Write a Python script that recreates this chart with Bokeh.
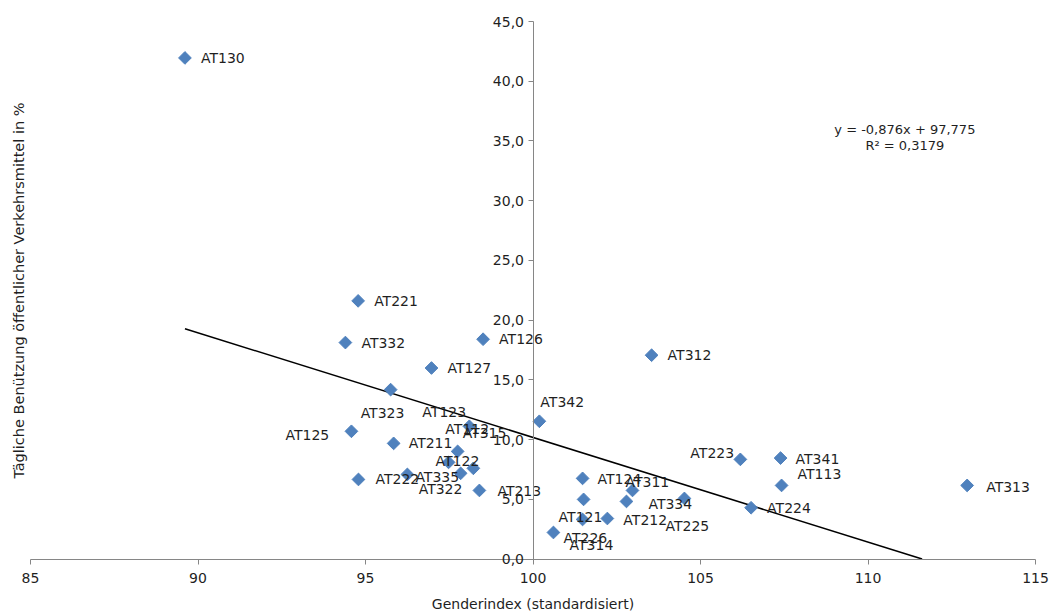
import math
from bokeh.plotting import figure
from bokeh.models import (ColumnDataSource, FixedTicker, CustomJSTickFormatter,
                          Label, Range1d)
from bokeh.core.properties import value
from bokeh.embed import file_html
from bokeh.resources import INLINE

# ---- data ----
regions = ["AT130", "AT221", "AT332", "AT126", "AT127", "AT312", "AT323", "AT342",
           "AT125", "AT112", "AT211", "AT315", "AT122", "AT123", "AT322", "AT335",
           "AT222", "AT213", "AT226", "AT124", "AT121", "AT314", "AT212", "AT311",
           "AT225", "AT334", "AT223", "AT341", "AT113", "AT224", "AT313"]
gender_index = [89.61, 94.78, 94.40, 98.51, 96.97, 103.54, 95.75, 100.19,
                94.58, 98.10, 95.84, 97.75, 97.48, 98.22, 97.84, 96.25,
                94.79, 98.40, 100.61, 101.48, 101.51, 101.48, 102.22, 102.97,
                102.79, 104.52, 106.19, 107.39, 107.42, 106.51, 112.96]
oev_share = [41.95, 21.61, 18.12, 18.40, 15.99, 17.06, 14.18, 11.53,
             10.69, 11.11, 9.68, 9.01, 8.09, 7.59, 7.17, 7.08,
             6.66, 5.74, 2.22, 6.75, 4.99, 3.31, 3.39, 5.74,
             4.82, 5.07, 8.34, 8.45, 6.16, 4.29, 6.16]
trend_slope = -0.876
trend_intercept = 97.775
r_squared = 0.3179
x_ticks = [85, 90, 95, 100, 105, 110, 115]
y_ticks = [0, 5, 10, 15, 20, 25, 30, 35, 40, 45]
x_axis_range = (85, 115)
y_axis_range = (0, 45)

# ---- label placement (screen pixels, relative to the marker) ----
label_dx = [16, 16, 16, 16, 16, 16, -30, 1,
            -66, -24, 15, 5, -13, -51, -42, 8,
            17, 18, 10, 15, -25, -13, 16, -7,
            39, -36, -50, 15, 16, 16, 19]
label_dy = [0, 0, 0, 0, 0, 0, 23, -19,
            4, 3, 0, -18, -1, -56, 16, 3,
            0, 1, 6, 1, 18, 26, 1, -8,
            25, 6, -6, 1, -11, 0, 2]

FONT = "DejaVu Sans"
TXT = "#1f1f1f"
AXC = "#868686"

# canvas geometry: plot box from px 30..1035 (x) and 21..558.5 (y)
W, H = 1051, 614
BOX_L, BOX_R, BOX_T, BOX_B = 30.0, 1035.0, 21.0, 558.5
ppx = (BOX_R - BOX_L) / (x_axis_range[1] - x_axis_range[0])
ppy = (BOX_B - BOX_T) / (y_axis_range[1] - y_axis_range[0])
xr = Range1d(x_axis_range[0] - BOX_L / ppx, x_axis_range[1] + (W - BOX_R) / ppx)
yr = Range1d(y_axis_range[0] - (H - BOX_B) / ppy, y_axis_range[1] + BOX_T / ppy)

src = ColumnDataSource(dict(x=gender_index, y=oev_share, name=regions,
                            dx=label_dx, dy=label_dy))

p = figure(frame_width=W, frame_height=H, x_range=xr, y_range=yr,
           output_backend="svg", toolbar_location=None,
           min_border=0, min_border_left=0, min_border_right=0,
           min_border_top=0, min_border_bottom=0)
p.outline_line_color = None
p.xgrid.visible = False
p.ygrid.visible = False
p.background_fill_color = "white"
p.border_fill_color = "white"

# axes crossing at (100, 0)
xa = p.xaxis[0]
ya = p.yaxis[0]
xa.fixed_location = 0
ya.fixed_location = 100
xa.bounds = x_axis_range
ya.bounds = y_axis_range
xa.ticker = FixedTicker(ticks=x_ticks)
ya.ticker = FixedTicker(ticks=y_ticks)
ya.formatter = CustomJSTickFormatter(code="return tick.toFixed(1).replace('.', ',');")
for ax in (xa, ya):
    ax.axis_line_color = AXC
    ax.major_tick_line_color = AXC
    ax.minor_tick_line_color = None
    ax.major_tick_in = 0
    ax.major_tick_out = 5
    ax.major_label_text_font = FONT
    ax.major_label_text_font_size = "14px"
    ax.major_label_text_color = TXT
xa.major_label_standoff = 9
xa.axis_label = "Genderindex (standardisiert)"
xa.axis_label_text_font = FONT
xa.axis_label_text_font_size = "14px"
xa.axis_label_text_font_style = "normal"
xa.axis_label_text_color = TXT
xa.axis_label_standoff = 9
ya.major_label_standoff = 4

# y title
p.add_layout(Label(x=xr.start + 18 / ppx, y=y_axis_range[0] + (BOX_B - 290) / ppy,
                   text="Tägliche Benützung öffentlicher Verkehrsmittel in %",
                   angle=math.pi / 2, text_align="center", text_baseline="middle",
                   text_font=FONT, text_font_size="14.5px", text_color=TXT))

# trend line (from smallest x to where it meets y = 0)
x_start = min(gender_index)
x_end = -trend_intercept / trend_slope
p.line([x_start, x_end],
       [trend_slope * x_start + trend_intercept, trend_slope * x_end + trend_intercept],
       line_color="black", line_width=1.5)

# markers
p.scatter("x", "y", source=src, marker="square", angle=math.pi / 4, size=9,
          fill_color="#4F81BD", line_color="#4F81BD")

# point labels
p.text(x="x", y="y", text="name", source=src, x_offset="dx", y_offset="dy",
       text_font=value(FONT), text_font_size="14px", text_color=TXT,
       text_align="left", text_baseline="middle")

# equation
def de(v, n):
    return f"{v:.{n}f}".replace(".", ",")

eq1 = f"y = {de(trend_slope, 3)}x + {de(trend_intercept, 3)}"
eq2 = f"R² = {de(r_squared, 4)}"
p.add_layout(Label(x=111.1, y=36.0, text=eq1, text_align="center", text_baseline="middle",
                   text_font=FONT, text_font_size="13px", text_color=TXT))
p.add_layout(Label(x=111.1, y=34.65, text=eq2, text_align="center", text_baseline="middle",
                   text_font=FONT, text_font_size="13px", text_color=TXT))

open("out.html", "w").write(file_html(p, INLINE))
